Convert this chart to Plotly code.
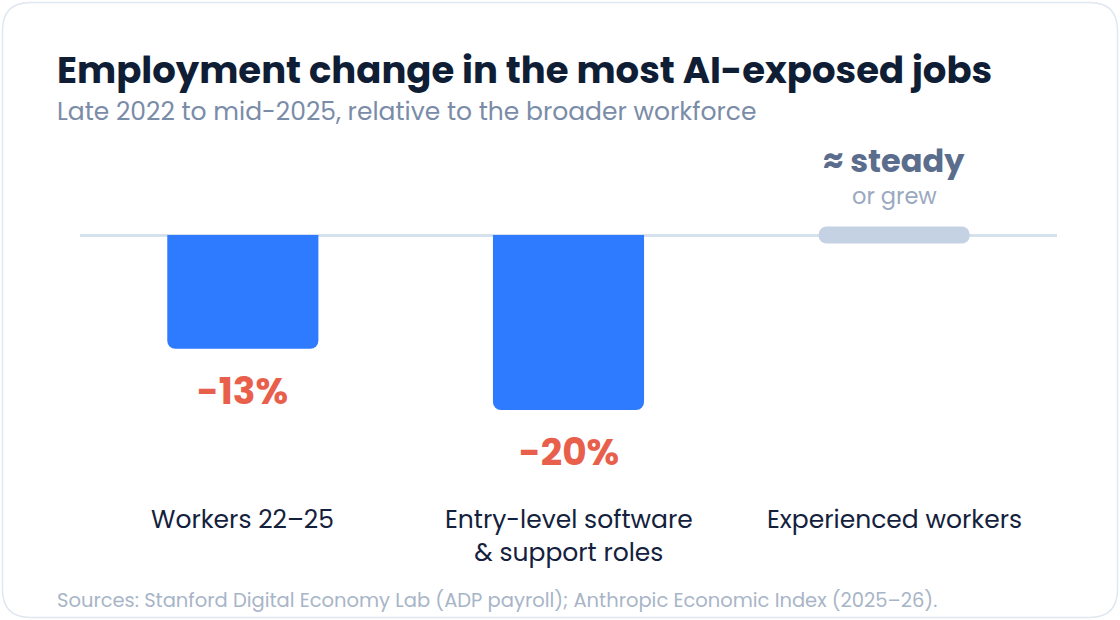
import plotly.graph_objects as go

# ---- data ----
categories = ["Workers 22–25", "Entry-level software<br>& support roles", "Experienced workers"]
values = [-13, -20, 0]
steady_label = "≈ steady"
steady_sub = "or grew"
title = "Employment change in the most AI-exposed jobs"
subtitle = "Late 2022 to mid-2025, relative to the broader workforce"
source = "Sources: Stanford Digital Economy Lab (ADP payroll); Anthropic Economic Index (2025–26)."

W, H = 1120, 620
FONT = "Poppins, Inter, sans-serif"

def px(x):
    return x / W

def py(y):
    return 1 - y / H

fig = go.Figure()

neg_cats = [c for c, v in zip(categories, values) if v != 0]
neg_vals = [v for v in values if v != 0]
zero_cats = [c for c, v in zip(categories, values) if v == 0]

fig.add_trace(go.Bar(
    x=neg_cats, y=neg_vals, width=0.464,
    marker=dict(color="#2e7bff", cornerradius=8, line=dict(width=0)),
    hoverinfo="skip", showlegend=False,
))
# pill marking "steady" (value 0): thin up + down halves, stacked from zero
half = 0.98
for sgn in (1, -1):
    fig.add_trace(go.Bar(
        x=zero_cats, y=[sgn * half] * len(zero_cats), width=0.464,
        marker=dict(color="#c5d2e3", cornerradius=8, line=dict(width=0)),
        hoverinfo="skip", showlegend=False,
    ))

annotations = []
for c, v in zip(categories, values):
    if v != 0:
        annotations.append(dict(x=c, y=v, xref="x", yref="y", yshift=-42, text=f"{v}%",
                                showarrow=False, yanchor="middle",
                                font=dict(family=FONT, size=37.5, color="#e8604c", weight="bold")))
    else:
        annotations.append(dict(x=c, y=v, xref="x", yref="y", yshift=75, text=steady_label,
                                showarrow=False, yanchor="middle",
                                font=dict(family=FONT, size=32, color="#5b6d8c", weight="bold")))
        annotations.append(dict(x=c, y=v, xref="x", yref="y", yshift=39.5, text=steady_sub,
                                showarrow=False, yanchor="middle",
                                font=dict(family=FONT, size=22.5, color="#9aa9c0")))
    annotations.append(dict(x=c, y=py(500), xref="x", yref="paper", text=c,
                            showarrow=False, yanchor="top", align="center",
                            font=dict(family=FONT, size=25, color="#14213d")))

annotations += [
    dict(x=px(55), y=py(70), xref="paper", yref="paper", text=f"<b>{title}</b>",
         showarrow=False, xanchor="left", yanchor="middle",
         font=dict(family=FONT, size=37, color="#0f1d35")),
    dict(x=px(55), y=py(111), xref="paper", yref="paper", text=subtitle,
         showarrow=False, xanchor="left", yanchor="middle",
         font=dict(family=FONT, size=25, color="#7a8ca8")),
    dict(x=px(55), y=py(600), xref="paper", yref="paper", text=source,
         showarrow=False, xanchor="left", yanchor="middle",
         font=dict(family=FONT, size=19.5, color="#a8b5c7")),
]

# card border (rounded rect)
x0, y0, x1, y1, r = 2.5, 2.5, 1117.5, 617.5, 28
path = (f"M {px(x0+r)},{py(y0)} L {px(x1-r)},{py(y0)} Q {px(x1)},{py(y0)} {px(x1)},{py(y0+r)} "
        f"L {px(x1)},{py(y1-r)} Q {px(x1)},{py(y1)} {px(x1-r)},{py(y1)} "
        f"L {px(x0+r)},{py(y1)} Q {px(x0)},{py(y1)} {px(x0)},{py(y1-r)} "
        f"L {px(x0)},{py(y0+r)} Q {px(x0)},{py(y0)} {px(x0+r)},{py(y0)} Z")

fig.update_layout(
    width=W, height=H, autosize=False,
    margin=dict(l=0, r=0, t=0, b=0),
    paper_bgcolor="white", plot_bgcolor="rgba(0,0,0,0)",
    barmode="relative",
    xaxis=dict(domain=[px(80), px(1057)], range=[-0.5, 2.5], visible=False,
               categoryorder="array", categoryarray=categories, fixedrange=True),
    yaxis=dict(domain=[0, 1], range=[-44.0, 26.857], showgrid=False, showticklabels=False,
               zeroline=True, zerolinecolor="#d6e1ee", zerolinewidth=3, fixedrange=True),
    shapes=[dict(type="path", path=path, xref="paper", yref="paper",
                 line=dict(color="#dfe7f0", width=1.5), fillcolor="rgba(0,0,0,0)", layer="below")],
    annotations=annotations,
    showlegend=False,
)

fig.write_html("out.html", config={"displayModeBar": False})
